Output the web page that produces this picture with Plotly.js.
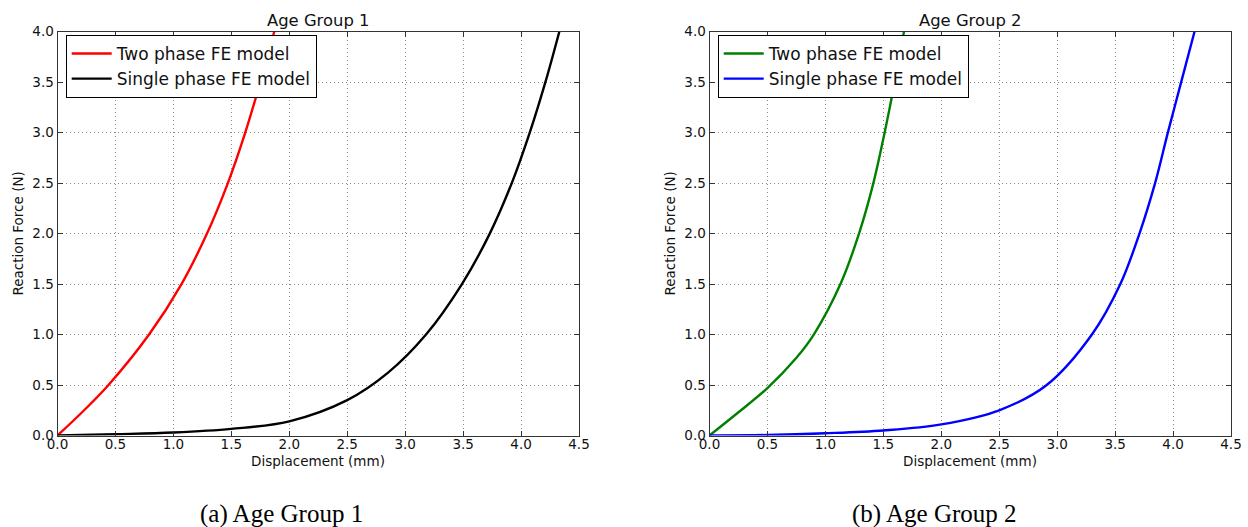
<!DOCTYPE html>
<html>
<head>
<meta charset="utf-8">
<script src="https://cdn.plot.ly/plotly-3.0.1.min.js"></script>
<style>html,body{margin:0;padding:0;background:#fff;}#chart{width:1248px;height:527px;}</style>
</head>
<body>
<div id="chart"></div>
<script>
// ---- Data ----
const twoPhaseAG1_x = [0, 0.23, 0.44, 0.79, 1.07, 1.29, 1.47, 1.62, 1.75, 1.87];
const twoPhaseAG1_y = [0, 0.25, 0.5, 1.0, 1.5, 2.0, 2.5, 3.0, 3.5, 4.0];
const singlePhaseAG1_x = [0, 0.5, 1.0, 1.5, 2.0, 2.5, 2.85, 3.18, 3.49, 3.73, 3.92, 4.075, 4.21, 4.33];
const singlePhaseAG1_y = [0, 0.013, 0.03, 0.066, 0.14, 0.35, 0.62, 1.0, 1.5, 2.0, 2.5, 3.0, 3.5, 4.0];
const twoPhaseAG2_x = [0, 0.25, 0.5, 0.75, 0.90, 1.13, 1.29, 1.414, 1.511, 1.598, 1.678];
const twoPhaseAG2_y = [0, 0.23, 0.47, 0.77, 1.0, 1.5, 2.0, 2.5, 3.0, 3.5, 4.0];
const singlePhaseAG2_x = [0, 0.5, 1.0, 1.5, 2.0, 2.5, 2.91, 3.30, 3.545, 3.71, 3.845, 3.955, 4.07, 4.185];
const singlePhaseAG2_y = [0, 0.005, 0.022, 0.05, 0.11, 0.25, 0.5, 1.0, 1.5, 2.0, 2.5, 3.0, 3.5, 4.0];

const xTicks = [0, 0.5, 1.0, 1.5, 2.0, 2.5, 3.0, 3.5, 4.0, 4.5];
const yTicks = [0, 0.5, 1.0, 1.5, 2.0, 2.5, 3.0, 3.5, 4.0];
const seriesNames = ["Two phase FE model", "Single phase FE model"];
const panelTitles = ["Age Group 1", "Age Group 2"];
const captions = ["(a) Age Group 1", "(b) Age Group 2"];
const xTitle = "Displacement (mm)";
const yTitle = "Reaction Force (N)";

// ---- Layout ----
const W = 1248, H = 527;
const px = v => v / W, py = v => 1 - v / H;
const FONT = "DejaVu Sans, sans-serif";

function lineTrace(x, y, name, color, xa, ya, leg) {
  return {x: x, y: y, name: name, type: "scatter", mode: "lines",
    line: {color: color, width: 2.4, shape: "spline", smoothing: 1},
    xaxis: xa, yaxis: ya, legend: leg, hoverinfo: "skip"};
}

const traces = [
  lineTrace(twoPhaseAG1_x, twoPhaseAG1_y, seriesNames[0], "#ff0000", "x", "y", "legend"),
  lineTrace(singlePhaseAG1_x, singlePhaseAG1_y, seriesNames[1], "#000000", "x", "y", "legend"),
  lineTrace(twoPhaseAG2_x, twoPhaseAG2_y, seriesNames[0], "#008000", "x2", "y2", "legend2"),
  lineTrace(singlePhaseAG2_x, singlePhaseAG2_y, seriesNames[1], "#0000ff", "x2", "y2", "legend2")
];

function commonAxis() {
  return {ticks: "inside", ticklen: 5, tickcolor: "#333",
    showline: true, linecolor: "#333", linewidth: 1, mirror: "allticks",
    showgrid: true, gridcolor: "#888", gridwidth: 1, griddash: "1px,3px", zeroline: false,
    tickfont: {family: FONT, size: 13.5, color: "#111"}, fixedrange: true};
}
function xAxis(domain, anchor) {
  return Object.assign(commonAxis(), {domain: domain, anchor: anchor, range: [0, 4.5],
    tickvals: xTicks, ticktext: xTicks.map(v => v.toFixed(1)), ticklabelstandoff: -4});
}
function yAxis(domain, anchor) {
  return Object.assign(commonAxis(), {domain: domain, anchor: anchor, range: [0, 4.0],
    tickvals: yTicks, ticktext: yTicks.map(v => v.toFixed(1))});
}

const yDom = [py(435.5), py(31.7)];
const x1Dom = [px(57.5), px(579)];
const x2Dom = [px(709.5), px(1231)];

function legendCfg(xLeft) {
  return {x: px(xLeft), y: py(35), xanchor: "left", yanchor: "top",
    bgcolor: "#ffffff", bordercolor: "#000", borderwidth: 1, itemwidth: 40,
    font: {family: FONT, size: 17, color: "#111"}};
}

const annFont = {family: FONT, size: 16.4, color: "#111"};
const axFont = {family: FONT, size: 13.5, color: "#111"};
const capFont = {family: "Liberation Serif, Times New Roman, serif", size: 25, color: "#000"};

const annotations = [
  {text: panelTitles[0], x: (x1Dom[0] + x1Dom[1]) / 2, y: py(20), font: annFont},
  {text: panelTitles[1], x: (x2Dom[0] + x2Dom[1]) / 2, y: py(20), font: annFont},
  {text: xTitle, x: (x1Dom[0] + x1Dom[1]) / 2, y: py(461), font: axFont},
  {text: xTitle, x: (x2Dom[0] + x2Dom[1]) / 2, y: py(461), font: axFont},
  {text: yTitle, x: px(18), y: py(233.6), textangle: -90, font: axFont},
  {text: yTitle, x: px(670), y: py(233.6), textangle: -90, font: axFont},
  {text: captions[0], x: px(281), y: py(514), font: capFont},
  {text: captions[1], x: px(934), y: py(514), font: capFont}
].map(a => Object.assign({xref: "paper", yref: "paper", showarrow: false,
  xanchor: "center", yanchor: "middle"}, a));

const layout = {
  width: W, height: H, margin: {l: 0, r: 0, t: 0, b: 0},
  paper_bgcolor: "#fff", plot_bgcolor: "#fff",
  font: {family: FONT, color: "#111"},
  showlegend: true,
  xaxis: xAxis(x1Dom, "y"), yaxis: yAxis(yDom, "x"),
  xaxis2: xAxis(x2Dom, "y2"), yaxis2: yAxis(yDom, "x2"),
  legend: legendCfg(65.7), legend2: legendCfg(717.7),
  annotations: annotations
};

Plotly.newPlot("chart", traces, layout, {displayModeBar: false, staticPlot: true});
</script>
</body>
</html>
